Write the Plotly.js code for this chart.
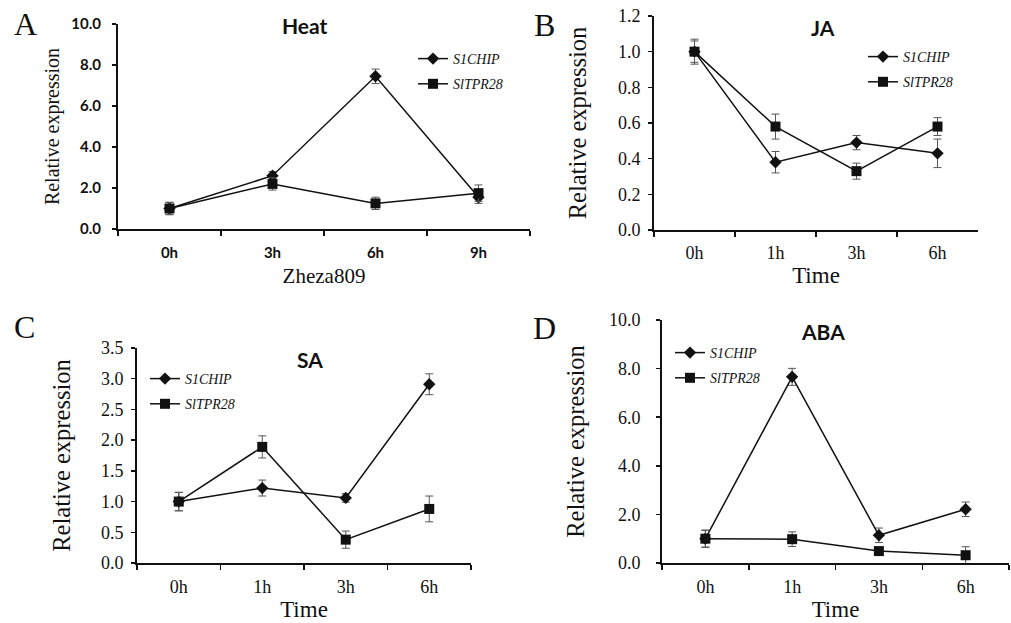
<!DOCTYPE html>
<html>
<head>
<meta charset="utf-8">
<script src="https://cdn.plot.ly/plotly-3.0.1.min.js"></script>
<style>html,body{margin:0;padding:0;background:#fff;}#chart{width:1011px;height:623px;}</style>
</head>
<body>
<div id="chart"></div>
<script>
// ---- data ----
const heatTimes = ["0h", "3h", "6h", "9h"];
const hormoneTimes = ["0h", "1h", "3h", "6h"];
const geneNames = ["S1CHIP", "SlTPR28"];

const heatCHIP = [1.0, 2.6, 7.45, 1.55];
const heatCHIPErr = [0.3, 0.2, 0.35, 0.3];
const heatTPR = [1.0, 2.2, 1.25, 1.75];
const heatTPRErr = [0.3, 0.3, 0.3, 0.4];

const jaCHIP = [1.0, 0.38, 0.49, 0.43];
const jaCHIPErr = [0.07, 0.06, 0.04, 0.08];
const jaTPR = [1.0, 0.58, 0.33, 0.58];
const jaTPRErr = [0.06, 0.07, 0.045, 0.05];

const saCHIP = [1.0, 1.22, 1.06, 2.91];
const saCHIPErr = [0.15, 0.13, 0.07, 0.17];
const saTPR = [1.0, 1.89, 0.38, 0.88];
const saTPRErr = [0.15, 0.18, 0.14, 0.21];

const abaCHIP = [1.0, 7.66, 1.14, 2.21];
const abaCHIPErr = [0.35, 0.35, 0.3, 0.3];
const abaTPR = [1.0, 0.98, 0.49, 0.32];
const abaTPRErr = [0.35, 0.3, 0.1, 0.35];

const panelTitles = ["Heat", "JA", "SA", "ABA"];
const panelLetters = ["A", "B", "C", "D"];

// ---- build ----
const W = 1011, H = 623;
const SERIF = "Liberation Serif, Times New Roman, serif";
const SANS = "Lato, Open Sans, sans-serif";

function px2x(p){ return p / W; }
function px2y(p){ return 1 - p / H; }

function series(x, y, err, gene, ax, legendId, sym){
  return {
    x: x, y: y, type: "scatter", mode: "lines+markers",
    name: gene, legend: legendId, legendgroup: legendId + gene,
    xaxis: "x" + ax, yaxis: "y" + ax,
    line: {color: "#111", width: 1.5},
    marker: {symbol: sym, size: sym === "diamond" ? 9.5 : 10, color: "#111"},
    error_y: {type: "data", array: err, visible: true, color: "#555", thickness: 1, width: 4}
  };
}

const data = [
  series(heatTimes, heatCHIP, heatCHIPErr, geneNames[0], "", "legend", "diamond"),
  series(heatTimes, heatTPR, heatTPRErr, geneNames[1], "", "legend", "square"),
  series(hormoneTimes, jaCHIP, jaCHIPErr, geneNames[0], "2", "legend2", "diamond"),
  series(hormoneTimes, jaTPR, jaTPRErr, geneNames[1], "2", "legend2", "square"),
  series(hormoneTimes, saCHIP, saCHIPErr, geneNames[0], "3", "legend3", "diamond"),
  series(hormoneTimes, saTPR, saTPRErr, geneNames[1], "3", "legend3", "square"),
  series(hormoneTimes, abaCHIP, abaCHIPErr, geneNames[0], "4", "legend4", "diamond"),
  series(hormoneTimes, abaTPR, abaTPRErr, geneNames[1], "4", "legend4", "square")
];
data[0].xaxis = "x"; data[0].yaxis = "y";
data[1].xaxis = "x"; data[1].yaxis = "y";

function xAxis(dom, anchor, cats, tickFont, titleText, titleFont, standoff, lblStandoff){
  return {
    domain: dom, anchor: anchor, type: "category", categoryarray: cats, categoryorder: "array",
    range: [-0.5, 3.5], tickson: "boundaries", ticks: "outside", ticklen: 5, tickwidth: 1.5,
    tickcolor: "#111", showline: true, linecolor: "#111", linewidth: 2,
    showgrid: false, zeroline: false, tickfont: tickFont, ticklabelstandoff: lblStandoff,
    title: {text: titleText, font: titleFont, standoff: standoff}, fixedrange: true
  };
}
function yAxis(dom, anchor, range, dtick, tickFont, titleFont, standoff, lblStandoff){
  return {
    domain: dom, anchor: anchor, range: range, dtick: dtick, tick0: 0, tickformat: ".1f",
    ticks: "outside", ticklen: 4, tickwidth: 1.5, tickcolor: "#111",
    showline: true, linecolor: "#111", linewidth: 2, showgrid: false, zeroline: false,
    tickfont: tickFont, ticklabelstandoff: lblStandoff,
    title: {text: "Relative expression", font: titleFont, standoff: standoff}, fixedrange: true
  };
}

const boldTick = {family: SANS, size: 15, color: "#111", weight: "bold"};
const serifTick = {family: SERIF, size: 18, color: "#111"};

function legendAt(lx, ly){
  return {
    x: px2x(lx), y: px2y(ly), xanchor: "left", yanchor: "top",
    font: {family: SERIF, size: 14, style: "italic", color: "#111"},
    bgcolor: "rgba(0,0,0,0)", borderwidth: 0, traceorder: "grouped", tracegroupgap: 4,
    itemwidth: 30
  };
}

const layout = {
  width: W, height: H, margin: {l: 0, r: 0, t: 0, b: 0},
  paper_bgcolor: "#fff", plot_bgcolor: "#fff", showlegend: true,
  xaxis: xAxis([px2x(118), px2x(530)], "y", heatTimes, boldTick, "Zheza809", {family: SERIF, size: 21, color: "#111"}, 8, 9),
  yaxis: yAxis([px2y(229), px2y(24)], "x", [0, 10], 2, boldTick, {family: SERIF, size: 20, color: "#111"}, 6, 8),
  xaxis2: xAxis([px2x(654), px2x(978)], "y2", hormoneTimes, serifTick, "Time", {family: SERIF, size: 23, color: "#111"}, 5, 5),
  yaxis2: yAxis([px2y(230), px2y(16)], "x2", [0, 1.2], 0.2, serifTick, {family: SERIF, size: 24.5, color: "#111"}, 24, 4),
  xaxis3: xAxis([px2x(137), px2x(471)], "y3", hormoneTimes, serifTick, "Time", {family: SERIF, size: 23, color: "#111"}, 5, 6),
  yaxis3: yAxis([px2y(563), px2y(348)], "x3", [0, 3.5], 0.5, serifTick, {family: SERIF, size: 24.5, color: "#111"}, 23, 4),
  xaxis4: xAxis([px2x(662), px2x(1009)], "y4", hormoneTimes, serifTick, "Time", {family: SERIF, size: 23, color: "#111"}, 5, 6),
  yaxis4: yAxis([px2y(563), px2y(320)], "x4", [0, 10], 2, serifTick, {family: SERIF, size: 24.5, color: "#111"}, 17, 12),
  legend: legendAt(413, 43),
  legend2: legendAt(863, 41),
  legend3: legendAt(145, 363),
  legend4: legendAt(670, 337),
  annotations: []
};

const titlePos = [[305, 25], [823, 27], [310, 359], [823, 331]];
const letterPos = [[25, 24], [544, 25], [24, 327], [544, 328]];
for (let i = 0; i < 4; i++) {
  layout.annotations.push({
    text: panelTitles[i], xref: "paper", yref: "paper",
    x: px2x(titlePos[i][0]), y: px2y(titlePos[i][1]), xanchor: "center", yanchor: "middle",
    showarrow: false, font: {family: SANS, size: 21, weight: "bold", color: "#111"}
  });
  layout.annotations.push({
    text: panelLetters[i], xref: "paper", yref: "paper",
    x: px2x(letterPos[i][0]), y: px2y(letterPos[i][1]), xanchor: "center", yanchor: "middle",
    showarrow: false, font: {family: SERIF, size: 32, color: "#111"}
  });
}

Plotly.newPlot("chart", data, layout, {displayModeBar: false, staticPlot: true});
</script>
</body>
</html>
